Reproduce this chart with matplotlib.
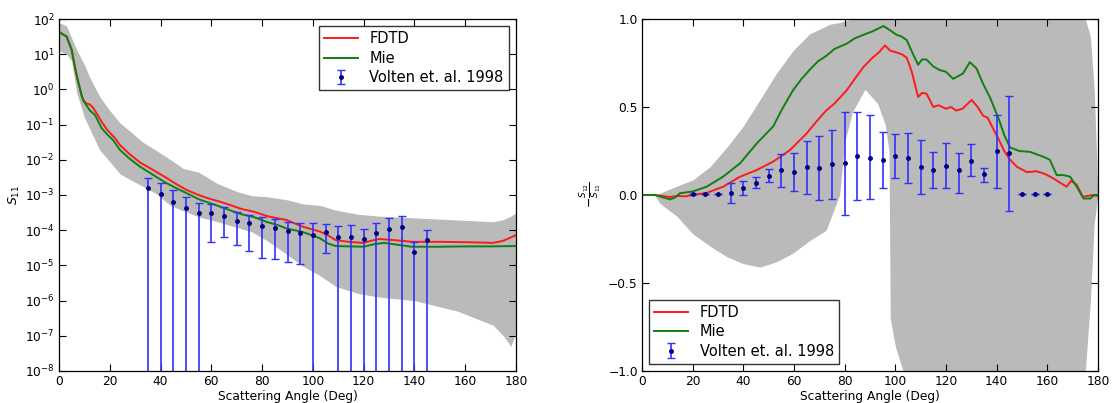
import numpy as np
import matplotlib
matplotlib.use("Agg")
import matplotlib.pyplot as plt

# ---------------------------------------------
# data
# ---------------------------------------------
# left panel: S11 (log10 values)
fdtd_s11_deg = [0, 3, 5, 6.3, 7.2, 8.0, 9.5, 10.9, 12.2, 13.5, 15, 16.8, 19, 22, 24, 28, 32, 37.1, 42, 46,
                50.3, 55, 59, 63.4, 68, 72, 76.5, 82, 86, 89.6, 96, 102.8, 106, 109, 114, 119.7, 123, 126,
                130, 135, 139, 150, 160, 171, 175, 180]
fdtd_s11_log = [1.63, 1.5, 1.12, 0.64, 0.3, 0.08, -0.32, -0.4, -0.43, -0.53, -0.7, -0.92, -1.15, -1.38, -1.58,
                -1.85, -2.08, -2.29, -2.5, -2.68, -2.86, -3.0, -3.1, -3.19, -3.3, -3.4, -3.47, -3.6, -3.66,
                -3.71, -3.9, -4.04, -4.15, -4.28, -4.33, -4.36, -4.3, -4.25, -4.27, -4.3, -4.33, -4.33,
                -4.34, -4.36, -4.3, -4.14]

mie_s11_deg = [0, 3, 5, 6.3, 7.6, 9, 10.2, 12.2, 14.2, 16.8, 19, 21.3, 24, 28, 32, 37.1, 42, 46, 50.3, 55,
               59, 63.4, 68, 72, 76.5, 82, 86, 89.6, 96, 102.8, 106, 109, 114, 120, 124, 128, 132, 139,
               150, 160, 170, 180]
mie_s11_log = [1.63, 1.5, 1.12, 0.6, 0.22, -0.2, -0.39, -0.6, -0.73, -1.1, -1.28, -1.44, -1.72, -1.98,
               -2.2, -2.43, -2.65, -2.8, -2.95, -3.12, -3.22, -3.33, -3.45, -3.55, -3.62, -3.77, -3.85,
               -3.95, -4.05, -4.23, -4.38, -4.45, -4.46, -4.47, -4.4, -4.36, -4.4, -4.47, -4.47, -4.46,
               -4.46, -4.45]

# spread of the ensemble (grey band), log10
band_s11_deg = [0, 3, 5, 7, 10, 12, 16, 20, 24, 29, 33, 38, 44, 49, 55, 62, 70, 76, 82, 90, 96, 103, 109,
                118, 126, 140, 157, 171, 175, 178, 180]
band_s11_hi = [1.9, 1.8, 1.45, 1.12, 0.7, 0.36, -0.2, -0.6, -0.95, -1.25, -1.5, -1.72, -2.0, -2.25, -2.35,
               -2.66, -2.9, -3.02, -3.05, -3.14, -3.25, -3.3, -3.43, -3.55, -3.6, -3.65, -3.71, -3.76,
               -3.7, -3.6, -3.5]
band_s11_lo = [1.1, 1.0, 0.8, -0.1, -0.8, -1.1, -1.72, -2.05, -2.4, -2.6, -2.75, -2.95, -3.3, -3.45, -3.62,
               -3.75, -3.92, -4.05, -4.3, -4.7, -5.02, -5.3, -5.6, -5.8, -5.9, -6.0, -6.3, -6.7, -7.0,
               -7.3, -6.9]

# Volten et al. 1998, S11
volten_deg = [35, 40, 45, 50, 55, 60, 65, 70, 75, 80, 85, 90, 95, 100, 105, 110, 115, 120, 125, 130, 135, 140, 145]
volten_s11 = [1.6e-3, 1.05e-3, 6.5e-4, 4.2e-4, 3.0e-4, 3.0e-4, 2.5e-4, 1.85e-4, 1.57e-4, 1.3e-4, 1.12e-4,
              9.8e-5, 8.5e-5, 7.3e-5, 8.7e-5, 6.6e-5, 6.6e-5, 5.6e-5, 8.5e-5, 1.1e-4, 1.23e-4, 2.45e-5, 5.1e-5]
volten_s11_hi = [3.1e-3, 2.2e-3, 1.35e-3, 8.9e-4, 5.75e-4, 5.5e-4, 4.5e-4, 3.3e-4, 2.7e-4, 2.4e-4, 2.05e-4,
                 1.75e-4, 1.6e-4, 1.6e-4, 1.5e-4, 1.3e-4, 1.4e-4, 1.1e-4, 1.65e-4, 2.15e-4, 2.5e-4, 4.7e-5, 1.0e-4]
# 1e-12 = bar runs off the bottom of the axis
volten_s11_lo = [1e-12, 1e-12, 1e-12, 1e-12, 1e-12, 4.7e-5, 6.3e-5, 3.8e-5, 2.6e-5, 1.6e-5, 1.5e-5,
                 1.25e-5, 1.1e-5, 1e-12, 2.3e-5, 1e-12, 1e-12, 1e-12, 1e-12, 1e-12, 1e-12, 1e-12, 1e-12]

# right panel: -S12/S11
fdtd_pol_deg = [0, 5, 8, 11, 14, 17, 20, 25.5, 32, 38.7, 45.3, 51.8, 58.4, 65, 69, 72.7, 76, 80.8, 84, 87.4,
                91, 93.5, 95.9, 98, 100.5, 102.5, 104.5, 106.5, 109, 110.5, 112.3, 115, 117, 120, 122, 124,
                126.5, 130.1, 132.5, 134.7, 136.4, 138.5, 141, 143, 145.3, 148, 151.9, 155.8, 159, 162.4,
                165, 167.6, 169.3, 171.5, 174, 176, 178, 180]
fdtd_pol = [0, 0, -0.005, -0.012, -0.005, -0.008, 0.0, 0.012, 0.047, 0.104, 0.142, 0.19, 0.255, 0.35, 0.42,
            0.48, 0.52, 0.595, 0.66, 0.727, 0.78, 0.81, 0.85, 0.82, 0.81, 0.8, 0.78, 0.7, 0.557, 0.58, 0.576,
            0.5, 0.51, 0.49, 0.5, 0.48, 0.49, 0.54, 0.5, 0.45, 0.44, 0.38, 0.31, 0.25, 0.2, 0.16, 0.13, 0.135,
            0.12, 0.094, 0.07, 0.047, 0.08, 0.06, -0.01, -0.005, 0.0, -0.005]

mie_pol_deg = [0, 5, 8, 11, 13, 15, 20, 25.5, 32, 38.7, 45.3, 51.8, 55, 59.6, 63, 66.1, 69.5, 72.7, 76, 80.8,
               84, 87.4, 91, 95.3, 97.5, 100.5, 102.5, 104.5, 107, 109, 110.5, 112.3, 115, 117.5, 120, 122.8,
               126.7, 129.4, 132, 134.7, 137.5, 141, 143, 145.3, 149, 153.2, 156, 158.5, 161, 163.7, 166.4,
               169, 171.6, 174.3, 176.9, 178.5, 180]
mie_pol = [0, 0, -0.012, -0.025, -0.015, 0.01, 0.02, 0.047, 0.104, 0.18, 0.293, 0.39, 0.48, 0.595, 0.66,
           0.71, 0.76, 0.79, 0.83, 0.86, 0.89, 0.91, 0.93, 0.96, 0.94, 0.91, 0.9, 0.88, 0.8, 0.74, 0.77, 0.77,
           0.73, 0.71, 0.7, 0.66, 0.69, 0.755, 0.72, 0.63, 0.55, 0.425, 0.34, 0.27, 0.25, 0.245, 0.23, 0.217,
           0.2, 0.113, 0.113, 0.104, 0.047, -0.02, -0.02, 0.0, 0.0]

band_pol_deg = [0, 5, 7, 13.7, 20, 26.8, 33.4, 39.9, 46.5, 53, 59.6, 66.1, 72.7, 74, 78, 80, 83, 88, 93, 96,
                97.5, 98, 100, 103, 175, 177, 178.5, 180]
band_pol_hi = [0, 0, 0.01, 0.05, 0.085, 0.16, 0.27, 0.39, 0.54, 0.69, 0.82, 0.915, 0.96, 0.97, 0.98, 0.99,
               1.0, 1.0, 1.0, 1.0, 1.0, 1.0, 1.0, 1.0, 1.0, 0.9, 0.6, 0.0]
band_pol_lo = [0, 0, -0.047, -0.12, -0.22, -0.29, -0.35, -0.39, -0.41, -0.38, -0.33, -0.26, -0.2, -0.15,
               0.0, 0.3, 0.47, 0.6, 0.52, 0.4, 0.25, -0.7, -0.86, -1.0, -1.0, -0.6, -0.16, 0.0]

volten_pol_deg = [20, 25, 30, 35, 40, 45, 50, 55, 60, 65, 70, 75, 80, 85, 90, 95, 100, 105, 110, 115, 120,
                  125, 130, 135, 140, 145, 150, 155, 160]
volten_pol = [0.003, 0.003, 0.003, 0.013, 0.041, 0.07, 0.11, 0.142, 0.132, 0.157, 0.151, 0.178, 0.183, 0.221,
              0.211, 0.198, 0.221, 0.211, 0.159, 0.14, 0.166, 0.14, 0.196, 0.117, 0.249, 0.236, 0.003, 0.003, 0.003]
volten_pol_hi = [0.003, 0.003, 0.003, 0.07, 0.081, 0.104, 0.145, 0.232, 0.24, 0.308, 0.334, 0.372, 0.47, 0.47,
                 0.457, 0.359, 0.344, 0.35, 0.312, 0.246, 0.293, 0.24, 0.289, 0.151, 0.453, 0.561, 0.003, 0.003, 0.003]
volten_pol_lo = [0.003, 0.003, 0.003, -0.047, 0.0, 0.038, 0.075, 0.044, 0.023, 0.006, -0.028, -0.02, -0.113,
                 -0.028, -0.025, 0.038, 0.094, 0.07, 0.006, 0.038, 0.038, 0.01, 0.108, 0.075, 0.04, -0.089,
                 0.003, 0.003, 0.003]

# ---------------------------------------------
# style
# ---------------------------------------------
GREY = '#bababa'
plt.rcParams['font.family'] = ['DejaVu Sans']
plt.rcParams['xtick.direction'] = 'in'
plt.rcParams['ytick.direction'] = 'in'
plt.rcParams['xtick.top'] = True
plt.rcParams['ytick.right'] = True
plt.rcParams['xtick.labelsize'] = 8.8
plt.rcParams['ytick.labelsize'] = 8.8
plt.rcParams['axes.linewidth'] = 0.9


def draw_volten(ax, x, y, lo, hi):
    y = np.asarray(y)
    err = [y - np.asarray(lo), np.asarray(hi) - y]
    return ax.errorbar(x, y, yerr=err, fmt='.', color='#000080', ms=5,
                       ecolor='#3030ff', elinewidth=1.2, capsize=3, capthick=1.0,
                       label='Volten et. al. 1998')


def finish(ax, xlabel):
    ax.set_xlim(0, 180)
    ax.set_xticks(np.arange(0, 181, 20))
    ax.set_xlabel(xlabel, fontsize=8.8, labelpad=1)
    ax.tick_params(which='major', length=5, width=0.8, pad=3)
    ax.tick_params(which='minor', length=2.5, width=0.6)


def add_legend(ax, loc):
    ax.legend(loc=loc, fontsize=10.5, handlelength=2.3, handletextpad=0.8, fancybox=False,
              edgecolor='#333333', framealpha=1, borderaxespad=0.5, labelspacing=0.3,
              borderpad=0.35)


fig = plt.figure(figsize=(11.12, 4.03), dpi=100)
ax1 = fig.add_axes([59 / 1112, 1 - 371 / 403, 457 / 1112, 352 / 403])
ax2 = fig.add_axes([642 / 1112, 1 - 371 / 403, 456 / 1112, 352 / 403])

# ---- left: S11 ----
ax1.set_yscale('log')
ax1.fill_between(band_s11_deg, 10 ** np.array(band_s11_lo), 10 ** np.array(band_s11_hi),
                 color=GREY, lw=0)
ax1.plot(fdtd_s11_deg, 10 ** np.array(fdtd_s11_log), color='#ff1a1a', lw=1.4, label='FDTD')
ax1.plot(mie_s11_deg, 10 ** np.array(mie_s11_log), color='#108010', lw=1.4, label='Mie')
draw_volten(ax1, volten_deg, volten_s11, volten_s11_lo, volten_s11_hi)
ax1.set_ylim(1e-8, 1e2)
ax1.set_yticks([10.0 ** k for k in range(-8, 3)])
ax1.set_ylabel(r'$S_{11}$', fontsize=9, labelpad=2)
finish(ax1, 'Scattering Angle (Deg)')
add_legend(ax1, 'upper right')

# ---- right: -S12/S11 ----
ax2.fill_between(band_pol_deg, band_pol_lo, band_pol_hi, color=GREY, lw=0)
ax2.plot(fdtd_pol_deg, fdtd_pol, color='#ff1a1a', lw=1.4, label='FDTD')
ax2.plot(mie_pol_deg, mie_pol, color='#108010', lw=1.4, label='Mie')
draw_volten(ax2, volten_pol_deg, volten_pol, volten_pol_lo, volten_pol_hi)
ax2.set_ylim(-1.0, 1.0)
ax2.set_yticks([-1.0, -0.5, 0.0, 0.5, 1.0])
ax2.set_ylabel(r'$-\frac{S_{12}}{S_{11}}$', fontsize=9, labelpad=4)
finish(ax2, 'Scattering Angle (Deg)')
add_legend(ax2, 'lower left')

fig.savefig('out.png', dpi=100)
